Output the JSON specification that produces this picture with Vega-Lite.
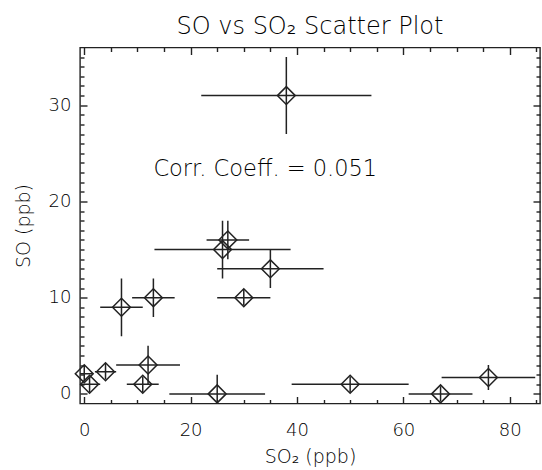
{
  "$schema": "https://vega.github.io/schema/vega-lite/v6.json",
  "autosize": {"type": "none"},
  "width": 460,
  "height": 356,
  "padding": {"left": 80, "top": 47.5, "right": 2, "bottom": 66.5},
  "background": "white",
  "config": {
    "view": {"stroke": "#222", "strokeWidth": 1.4},
    "font": "DejaVu Sans",
    "axis": {"grid": false, "domain": false, "labelFont": "DejaVu Sans", "titleFont": "DejaVu Sans", "labelFontSize": 18, "titleFontSize": 19, "labelFontWeight": 200, "titleFontWeight": 200, "labelColor": "#000", "titleColor": "#000", "tickColor": "#222", "tickWidth": 1.4}
  },
  "title": {"text": "SO vs SO₂ Scatter Plot", "fontSize": 24, "fontWeight": 200, "color": "#000", "font": "DejaVu Sans", "anchor": "middle", "baseline": "alphabetic", "offset": -11},
  "data": {"values": [
    {"so2": 38, "so": 31, "xlo": 22, "xhi": 54, "ylo": 27, "yhi": 35},
    {"so2": 27, "so": 16, "xlo": 23, "xhi": 31, "ylo": 14, "yhi": 18},
    {"so2": 26, "so": 15, "xlo": 13.2, "xhi": 38.8, "ylo": 12, "yhi": 18},
    {"so2": 35, "so": 13, "xlo": 25, "xhi": 45, "ylo": 11, "yhi": 15},
    {"so2": 30, "so": 10, "xlo": 25, "xhi": 35, "ylo": 9.2, "yhi": 10.8},
    {"so2": 13, "so": 10, "xlo": 9, "xhi": 17, "ylo": 8, "yhi": 12},
    {"so2": 7, "so": 9, "xlo": 3, "xhi": 11, "ylo": 6, "yhi": 12},
    {"so2": 12, "so": 3, "xlo": 6, "xhi": 18, "ylo": 1, "yhi": 5},
    {"so2": 11, "so": 1, "xlo": 8, "xhi": 14, "ylo": 0.2, "yhi": 1.8},
    {"so2": 0, "so": 2.1, "xlo": -1.3, "xhi": 1.5, "ylo": 1.3, "yhi": 2.9},
    {"so2": 1, "so": 1, "xlo": -1, "xhi": 3, "ylo": 0.2, "yhi": 1.8},
    {"so2": 4, "so": 2.3, "xlo": 2, "xhi": 6, "ylo": 1.5, "yhi": 3.1},
    {"so2": 25, "so": 0, "xlo": 16, "xhi": 34, "ylo": -2, "yhi": 2},
    {"so2": 50, "so": 1, "xlo": 39, "xhi": 61, "ylo": 0.2, "yhi": 1.8},
    {"so2": 67, "so": 0, "xlo": 61, "xhi": 73, "ylo": -0.8, "yhi": 0.8},
    {"so2": 76, "so": 1.7, "xlo": 67.2, "xhi": 84.8, "ylo": 0.4, "yhi": 3.0}
  ]},
  "resolve": {"axis": {"x": "independent", "y": "independent"}},
  "layer": [
    {
      "mark": {"type": "rule", "color": "#222", "strokeWidth": 1.5, "clip": true},
      "encoding": {
        "x": {"field": "xlo", "type": "quantitative", "scale": {"domain": [-0.8, 85.7], "nice": false, "zero": false},
              "axis": {"orient": "bottom", "values": [0, 20, 40, 60, 80], "ticks": false, "labelPadding": 18, "title": "SO₂ (ppb)", "titlePadding": 8}},
        "x2": {"field": "xhi"},
        "y": {"field": "so", "type": "quantitative", "scale": {"domain": [-1, 36], "nice": false, "zero": false},
              "axis": {"orient": "left", "values": [0, 10, 20, 30], "ticks": false, "labelPadding": 9, "title": "SO (ppb)", "titlePadding": 15}}
      }
    },
    {
      "mark": {"type": "rule", "color": "#222", "strokeWidth": 1.5, "clip": true},
      "encoding": {
        "x": {"field": "so2", "type": "quantitative",
              "axis": {"orient": "bottom", "values": [0, 20, 40, 60, 80], "labels": false, "tickSize": -7, "title": null}},
        "y": {"field": "ylo", "type": "quantitative",
              "axis": {"orient": "left", "values": [0, 10, 20, 30], "labels": false, "tickSize": -7, "title": null}},
        "y2": {"field": "yhi"}
      }
    },
    {
      "mark": {"type": "point", "shape": "diamond", "filled": false, "size": 320, "stroke": "#222", "strokeWidth": 1.5, "opacity": 1},
      "encoding": {
        "x": {"field": "so2", "type": "quantitative",
              "axis": {"orient": "bottom", "values": [5, 10, 15, 25, 30, 35, 45, 50, 55, 65, 70, 75, 85], "labels": false, "tickSize": -4, "title": null}},
        "y": {"field": "so", "type": "quantitative",
              "axis": {"orient": "left", "values": [1,2,3,4,5,6,7,8,9,11,12,13,14,15,16,17,18,19,21,22,23,24,25,26,27,28,29,31,32,33,34,35], "labels": false, "tickSize": -4, "title": null}}
      }
    },
    {
      "data": {"values": [{"label": "Corr. Coeff. = 0.051", "tx": 13, "ty": 22.6}]},
      "mark": {"type": "text", "align": "left", "baseline": "alphabetic", "fontSize": 22.5, "fontWeight": 200, "color": "#000", "font": "DejaVu Sans"},
      "encoding": {
        "text": {"field": "label"},
        "x": {"field": "tx", "type": "quantitative",
              "axis": {"orient": "top", "values": [0, 20, 40, 60, 80], "labels": false, "tickSize": -7, "title": null}},
        "y": {"field": "ty", "type": "quantitative",
              "axis": {"orient": "right", "values": [0, 10, 20, 30], "labels": false, "tickSize": -7, "title": null}}
      }
    },
    {
      "mark": {"type": "point", "opacity": 0},
      "encoding": {
        "x": {"field": "so2", "type": "quantitative",
              "axis": {"orient": "top", "values": [5, 10, 15, 25, 30, 35, 45, 50, 55, 65, 70, 75, 85], "labels": false, "tickSize": -4, "title": null}},
        "y": {"field": "so", "type": "quantitative",
              "axis": {"orient": "right", "values": [1,2,3,4,5,6,7,8,9,11,12,13,14,15,16,17,18,19,21,22,23,24,25,26,27,28,29,31,32,33,34,35], "labels": false, "tickSize": -4, "title": null}}
      }
    }
  ]
}
